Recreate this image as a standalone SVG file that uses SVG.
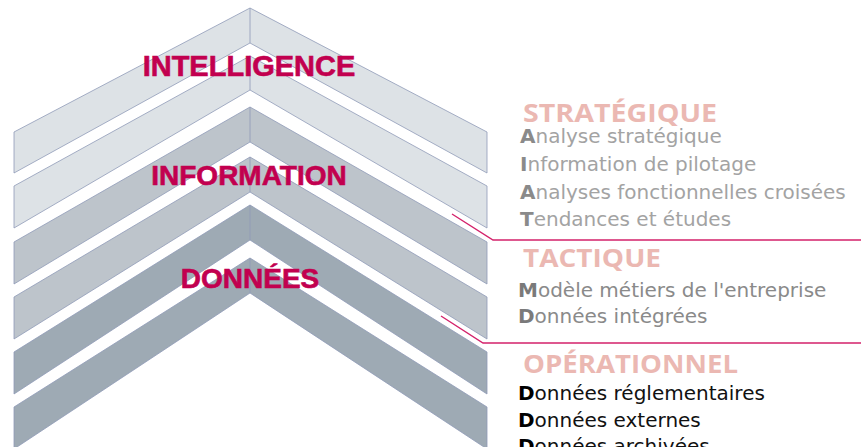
<svg xmlns="http://www.w3.org/2000/svg" width="861" height="447" viewBox="0 0 861 447">
  <style>
    .band { stroke: #8f9bb7; stroke-width: 0.8; stroke-linejoin: miter; }
    .fold { stroke: #8f9bb7; stroke-width: 0.8; fill: none; }
    .light { fill: #dde2e6; }
    .mid { fill: #bdc4cb; }
    .dark { fill: #9eaab4; }
    .level { font-family: "Liberation Sans", Arial, sans-serif; font-weight: bold; fill: #c2004f; text-anchor: middle; stroke: #c2004f; stroke-width: 0.6; }
    .head { font-family: "Open Sans", "DejaVu Sans", sans-serif; font-weight: 700; font-size: 25px; fill: #ebb8b2; }
    .item { font-family: "DejaVu Sans", "Liberation Sans", sans-serif; font-size: 20px; }
    .item .b { font-weight: bold; }
    .strat { fill: #a3a3a3; }
    .strat .b { fill: #8a8a8a; }
    .tact { fill: #8a8a8a; }
    .tact .b { fill: #7a7a7a; }
    .oper { fill: #111111; }
    .oper .b { fill: #000000; }
    .link { fill: none; stroke: #d3226b; stroke-width: 1.4; }
  </style>

  <!-- stacked chevrons, light at the top to dark at the bottom -->
  <g id="chevron-1">
    <polygon class="band light" points="14,132 250,8 487,132 487,173 250,43 14,173"/>
    <line class="fold" x1="250" y1="8" x2="250" y2="43"/>
  </g>
  <g id="chevron-2">
    <polygon class="band light" points="14,186 250,56 487,186 487,228 250,90 14,228"/>
    <line class="fold" x1="250" y1="56" x2="250" y2="90"/>
  </g>
  <g id="chevron-3">
    <polygon class="band mid" points="14,242 250,107 487,242 487,284 250,142 14,284"/>
    <line class="fold" x1="250" y1="107" x2="250" y2="142"/>
  </g>
  <g id="chevron-4">
    <polygon class="band mid" points="14,297 250,157 487,297 487,339 250,192 14,339"/>
    <line class="fold" x1="250" y1="157" x2="250" y2="192"/>
  </g>
  <g id="chevron-5">
    <polygon class="band dark" points="14,352 250,205 487,352 487,394 250,240 14,394"/>
    <line class="fold" x1="250" y1="205" x2="250" y2="240"/>
  </g>
  <g id="chevron-6">
    <polygon class="band dark" points="14,407 250,258 487,407 487,449 250,293 14,449"/>
    <line class="fold" x1="250" y1="258" x2="250" y2="293"/>
  </g>

  <!-- level labels -->
  <g id="label-intelligence">
    <text class="level" x="249" y="76" font-size="29">INTELLIGENCE</text>
  </g>
  <g id="label-information">
    <text class="level" x="249" y="185" font-size="28">INFORMATION</text>
  </g>
  <g id="label-donnees">
    <text class="level" x="250" y="288" font-size="28">DONNÉES</text>
  </g>

  <!-- separators between the levels -->
  <g id="connectors">
    <polyline class="link" points="452,214 493,240 861,240"/>
    <polyline class="link" points="441,316 483,343 861,343"/>
  </g>

  <!-- strategic level -->
  <g id="strategique">
    <text class="head" x="523" y="122" textLength="194" lengthAdjust="spacingAndGlyphs">STRATÉGIQUE</text>
    <text class="item strat" x="520" y="143"><tspan class="b">A</tspan>nalyse stratégique</text>
    <text class="item strat" x="520" y="171"><tspan class="b">I</tspan>nformation de pilotage</text>
    <text class="item strat" x="520" y="199"><tspan class="b">A</tspan>nalyses fonctionnelles croisées</text>
    <text class="item strat" x="520" y="226"><tspan class="b">T</tspan>endances et études</text>
  </g>

  <!-- tactical level -->
  <g id="tactique">
    <text class="head" x="523" y="267" textLength="138" lengthAdjust="spacingAndGlyphs">TACTIQUE</text>
    <text class="item tact" x="518" y="297"><tspan class="b">M</tspan>odèle métiers de l'entreprise</text>
    <text class="item tact" x="518" y="323"><tspan class="b">D</tspan>onnées intégrées</text>
  </g>

  <!-- operational level -->
  <g id="operationnel">
    <text class="head" x="523" y="373" textLength="215" lengthAdjust="spacingAndGlyphs">OPÉRATIONNEL</text>
    <text class="item oper" x="518" y="400"><tspan class="b">D</tspan>onnées réglementaires</text>
    <text class="item oper" x="518" y="427"><tspan class="b">D</tspan>onnées externes</text>
    <text class="item oper" x="518" y="453"><tspan class="b">D</tspan>onnées archivées</text>
  </g>
</svg>
